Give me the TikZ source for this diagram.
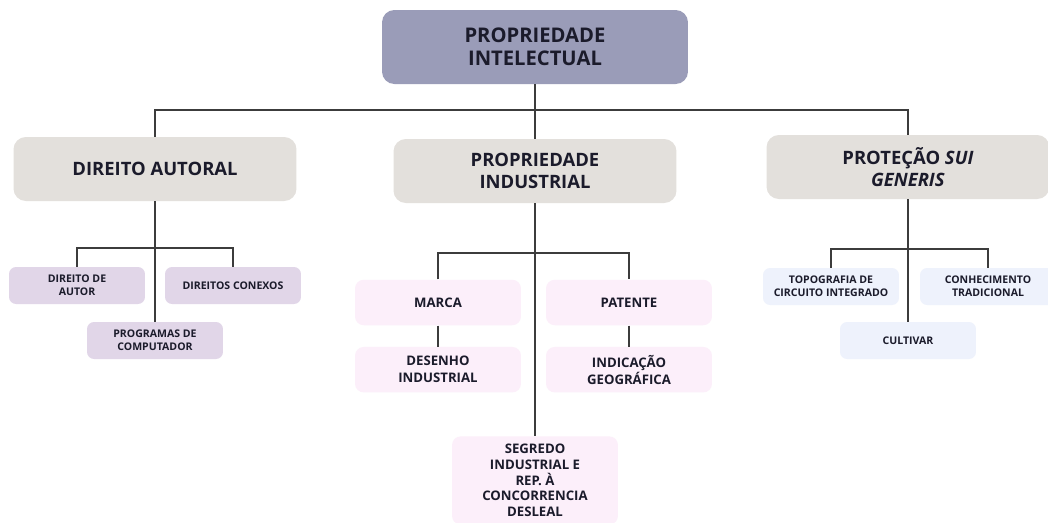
\documentclass[tikz,border=0pt]{standalone}
\usepackage{fontspec}
\setmainfont{Open Sans}
\usetikzlibrary{positioning}
\definecolor{ink}{HTML}{1B1B2B}
\definecolor{wire}{HTML}{3C3C3C}
\definecolor{lavgray}{HTML}{9A9CB8}
\definecolor{stone}{HTML}{E3E0DC}
\definecolor{lilac}{HTML}{E1D6E8}
\definecolor{blush}{HTML}{FCEFFA}
\definecolor{frost}{HTML}{EEF2FC}

\begin{document}
\begin{tikzpicture}[x=0.02cm, y=-0.02cm,
    box/.style={align=center, text=ink, inner sep=0pt, anchor=center},
    topbox/.style={box, fill=lavgray, rounded corners=7pt, minimum width=6.12cm, minimum height=1.48cm, font=\fontsize{11.5}{13.2}\selectfont\bfseries},
    areabox/.style={box, fill=stone, rounded corners=7pt, minimum width=5.66cm, minimum height=1.28cm, font=\fontsize{10.5}{12.5}\selectfont\bfseries},
    lilacbox/.style={box, fill=lilac, rounded corners=4pt, minimum width=2.72cm, minimum height=0.74cm, font=\fontsize{6}{7.4}\selectfont\bfseries},
    pinkbox/.style={box, fill=blush, rounded corners=5pt, minimum width=3.32cm, minimum height=0.91cm, font=\fontsize{7.5}{9.6}\selectfont\bfseries},
    bluebox/.style={box, fill=frost, rounded corners=4pt, minimum width=2.72cm, minimum height=0.74cm, font=\fontsize{6}{7.4}\selectfont\bfseries},
    link/.style={draw=wire, line width=0.85pt}]
    \useasboundingbox (0,0) rectangle (1048,522);
    \fill[white] (0,0) rectangle (1048,522);
    \clip (0,0) rectangle (1048,522);

    \node (pi) [topbox] at (535,47) {PROPRIEDADE\\INTELECTUAL};

    \node (da) [areabox] at (155,169) {DIREITO AUTORAL};
    \node (pind) [areabox] at (535,171) {PROPRIEDADE\\INDUSTRIAL};
    \node (psg) [areabox] at (908,167) {PROTEÇÃO \textit{SUI}\\\textit{GENERIS}};

    \node (dda) [lilacbox] at (77,285.5) {DIREITO DE\\AUTOR};
    \node (dcx) [lilacbox] at (233,285.5) {DIREITOS CONEXOS};
    \node (pc) [lilacbox] at (155,340.5) {PROGRAMAS DE\\COMPUTADOR};

    \node (marca) [pinkbox] at (438,302.5) {MARCA};
    \node (patente) [pinkbox] at (629,302.5) {PATENTE};
    \node (desenho) [pinkbox, below=0.42cm of marca] {DESENHO\\INDUSTRIAL};
    \node (indicacao) [pinkbox, below=0.42cm of patente] {INDICAÇÃO\\GEOGRÁFICA};
    \node (segredo) [pinkbox, anchor=north, inner ysep=0.16cm, minimum height=0pt, rounded corners=5pt,
        font=\fontsize{7.5}{8.9}\selectfont\bfseries] at (535,436) {SEGREDO\\INDUSTRIAL E\\REP. À\\CONCORRENCIA\\DESLEAL};

    \node (topo) [bluebox] at (831,286.5) {TOPOGRAFIA DE\\CIRCUITO INTEGRADO};
    \node (conh) [bluebox] at (988,286.5) {CONHECIMENTO\\TRADICIONAL};
    \node (cult) [bluebox] at (908,340.5) {CULTIVAR};

    \coordinate (bus) at (535,110);
    \coordinate (dabus) at (155,248);
    \coordinate (pibus) at (535,253);
    \coordinate (sgbus) at (908,249);

    \draw [link] (pi) -- (pind);
    \draw [link] (da.north) |- (bus) -| (psg.north);

    \draw [link] (dda.north) |- (dabus) -| (dcx.north);
    \draw [link] (da) -- (pc);

    \draw [link] (marca.north) |- (pibus) -| (patente.north);
    \draw [link] (pind) -- (segredo);
    \draw [link] (marca) -- (desenho);
    \draw [link] (patente) -- (indicacao);

    \draw [link] (topo.north) |- (sgbus) -| (conh.north);
    \draw [link] (psg) -- (cult);
\end{tikzpicture}
\end{document}
